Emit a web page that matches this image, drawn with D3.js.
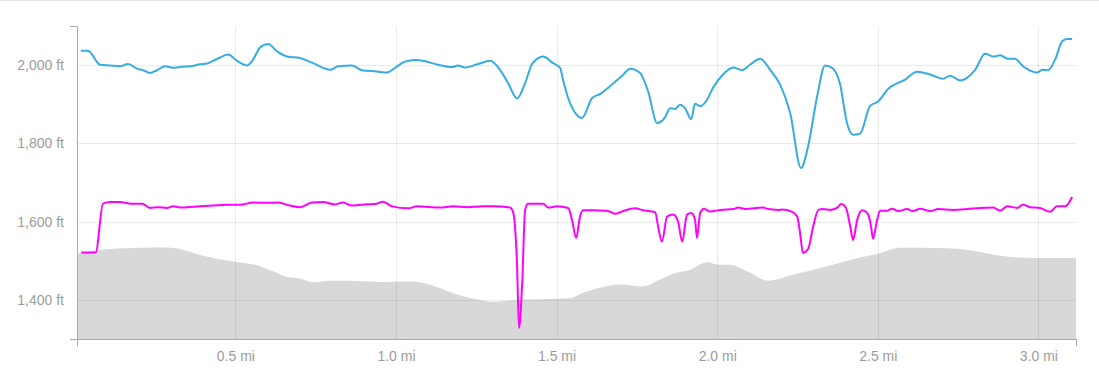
<!DOCTYPE html>
<html>
<head>
<meta charset="utf-8">
<script src="https://cdn.jsdelivr.net/npm/d3@7"></script>
<style>
  body { margin: 0; background: #fff; }
  svg { display: block; font-family: "Liberation Sans", Arial, sans-serif; }
</style>
</head>
<body>
<svg width="1099" height="389"></svg>
<script>
// distances in miles, elevations in feet
var xDomain = [0.007, 3.117];
var yDomain = [1300, 2100];
var xTicks = [0.5, 1.0, 1.5, 2.0, 2.5, 3.0];
var yTicks = [1400, 1600, 1800, 2000];

var blueDist = [0.019,0.041,0.079,0.110,0.141,0.166,0.194,0.213,0.234,0.256,0.281,0.306,0.334,0.359,0.390,0.415,0.446,0.477,0.505,0.536,0.555,0.577,0.602,0.630,0.661,0.701,0.742,0.795,0.820,0.863,0.894,0.941,0.972,0.997,1.028,1.059,1.091,1.131,1.175,1.193,1.215,1.256,1.293,1.324,1.349,1.377,1.402,1.424,1.458,1.489,1.511,1.520,1.536,1.542,1.579,1.611,1.635,1.676,1.704,1.729,1.760,1.785,1.813,1.838,1.853,1.869,1.884,1.900,1.919,1.931,1.947,1.969,1.987,2.018,2.050,2.078,2.102,2.134,2.165,2.196,2.227,2.261,2.283,2.311,2.336,2.358,2.383,2.404,2.423,2.445,2.476,2.501,2.532,2.585,2.622,2.663,2.703,2.725,2.756,2.803,2.834,2.859,2.881,2.906,2.927,2.952,2.996,3.012,3.030,3.052,3.074,3.089,3.105];
var blueFt = [2037,2037,2001,1999,1997,2003,1991,1987,1980,1987,1997,1993,1996,1997,2002,2005,2017,2027,2011,1999,2014,2045,2054,2035,2022,2018,2005,1988,1997,1999,1987,1984,1981,1993,2009,2013,2010,2001,1995,1999,1994,2003,2011,1988,1954,1915,1954,2003,2022,2005,1993,1963,1916,1903,1865,1916,1926,1953,1973,1991,1980,1933,1852,1867,1890,1888,1899,1890,1862,1901,1895,1912,1942,1976,1994,1987,2001,2016,1988,1950,1878,1737,1792,1920,1999,1993,1950,1852,1822,1825,1896,1907,1939,1963,1983,1976,1965,1973,1961,1988,2029,2022,2025,2016,2016,1997,1981,1988,1987,2014,2061,2067,2067];

var pinkDist = [0.020,0.065,0.088,0.110,0.141,0.172,0.210,0.234,0.259,0.287,0.306,0.334,0.390,0.431,0.474,0.515,0.555,0.599,0.633,0.670,0.701,0.739,0.773,0.810,0.835,0.863,0.898,0.935,0.960,0.988,1.038,1.066,1.137,1.178,1.221,1.271,1.302,1.355,1.365,1.377,1.383,1.393,1.402,1.411,1.458,1.474,1.502,1.536,1.548,1.561,1.573,1.582,1.614,1.657,1.682,1.704,1.744,1.769,1.807,1.816,1.828,1.844,1.863,1.878,1.891,1.906,1.919,1.931,1.937,1.947,1.959,1.978,2.009,2.050,2.065,2.087,2.143,2.159,2.190,2.202,2.233,2.249,2.258,2.267,2.283,2.299,2.315,2.330,2.352,2.373,2.386,2.401,2.414,2.423,2.436,2.451,2.467,2.479,2.485,2.498,2.507,2.529,2.545,2.563,2.591,2.610,2.632,2.663,2.688,2.734,2.778,2.819,2.859,2.881,2.903,2.934,2.952,2.974,3.005,3.036,3.058,3.083,3.093,3.105];
var pinkFt = [1521,1521,1646,1650,1650,1646,1646,1635,1637,1635,1639,1636,1639,1641,1643,1643,1649,1648,1649,1641,1637,1649,1650,1644,1649,1641,1644,1645,1651,1639,1634,1639,1636,1639,1637,1639,1639,1636,1623,1486,1328,1444,1630,1646,1646,1636,1639,1635,1605,1558,1613,1629,1629,1628,1620,1626,1634,1629,1624,1588,1549,1613,1618,1601,1549,1618,1622,1605,1558,1622,1633,1626,1630,1632,1636,1632,1636,1632,1630,1631,1625,1613,1571,1520,1530,1588,1630,1632,1630,1635,1645,1635,1588,1553,1605,1629,1622,1588,1556,1605,1628,1628,1633,1627,1632,1627,1633,1627,1632,1630,1632,1635,1636,1628,1639,1635,1644,1637,1635,1625,1639,1639,1646,1663];

var groundDist = [0.007,0.048,0.110,0.203,0.287,0.328,0.390,0.443,0.493,0.577,0.617,0.670,0.692,0.742,0.795,0.848,0.951,1.053,1.116,1.200,1.262,1.302,1.365,1.470,1.542,1.582,1.626,1.698,1.766,1.822,1.863,1.916,1.969,2.003,2.040,2.093,2.159,2.236,2.342,2.423,2.501,2.569,2.632,2.756,2.881,2.996,3.117];
var groundFt = [1517,1524,1530,1533,1534,1530,1515,1505,1498,1486,1473,1457,1456,1445,1449,1449,1446,1447,1436,1411,1400,1395,1399,1402,1404,1418,1429,1439,1434,1452,1467,1477,1496,1490,1490,1473,1449,1464,1486,1504,1518,1533,1533,1530,1513,1507,1507];

var svg = d3.select("svg"),
    margin = {top: 26, right: 23, bottom: 50, left: 77},
    width = +svg.attr("width") - margin.left - margin.right,
    height = +svg.attr("height") - margin.top - margin.bottom;

// faint top border
svg.append("line")
    .attr("x1", 0).attr("x2", 1099)
    .attr("y1", 0.5).attr("y2", 0.5)
    .attr("stroke", "#e4e4ec");

var g = svg.append("g").attr("transform", "translate(" + margin.left + "," + margin.top + ")");

var x = d3.scaleLinear().domain(xDomain).range([0, width]);
var y = d3.scaleLinear().domain(yDomain).range([height, 0]);

function pairs(ds, fs) {
  return ds.map(function(d, i) { return [d, fs[i]]; });
}

var area = d3.area()
    .x(function(d) { return x(d[0]); })
    .y0(height)
    .y1(function(d) { return y(d[1]); })
    .curve(d3.curveMonotoneX);

g.append("path")
    .datum(pairs(groundDist, groundFt))
    .attr("fill", "#d8d8d8")
    .attr("d", area);

// grid
g.append("g").selectAll("line")
    .data(yTicks)
    .enter().append("line")
      .attr("x1", 0).attr("x2", width)
      .attr("y1", function(d) { return Math.round(y(d)) + 0.5; })
      .attr("y2", function(d) { return Math.round(y(d)) + 0.5; })
      .attr("stroke", "rgba(0,0,0,0.08)");

g.append("g").selectAll("line")
    .data(xTicks)
    .enter().append("line")
      .attr("y1", 0).attr("y2", height)
      .attr("x1", function(d) { return Math.round(x(d)) + 0.5; })
      .attr("x2", function(d) { return Math.round(x(d)) + 0.5; })
      .attr("stroke", "rgba(0,0,0,0.08)");

var line = d3.line()
    .x(function(d) { return x(d[0]); })
    .y(function(d) { return y(d[1]); })
    .curve(d3.curveMonotoneX);

g.append("path")
    .datum(pairs(blueDist, blueFt))
    .attr("fill", "none")
    .attr("stroke", "#35ace2")
    .attr("stroke-width", 2)
    .attr("d", line);

g.append("path")
    .datum(pairs(pinkDist, pinkFt))
    .attr("fill", "none")
    .attr("stroke", "#ff00ff")
    .attr("stroke-width", 2)
    .attr("d", line);

// axes
var xAxis = g.append("g")
    .attr("transform", "translate(0," + height + ")")
    .call(d3.axisBottom(x)
      .tickValues(xTicks)
      .tickSizeInner(0)
      .tickSizeOuter(7)
      .tickPadding(12)
      .tickFormat(function(d) { return d3.format(".1f")(d) + " mi"; }));

var yAxis = g.append("g")
    .call(d3.axisLeft(y)
      .tickValues(yTicks)
      .tickSizeInner(0)
      .tickSizeOuter(7)
      .tickPadding(13)
      .tickFormat(function(d) { return d3.format(",")(d) + " ft"; }));

[xAxis, yAxis].forEach(function(a) {
  a.select(".domain").attr("stroke", "#a8a8a8");
  a.selectAll("text")
      .attr("fill", "#9c9c9c")
      .style("font-size", "14px")
      .style("font-family", "\"Liberation Sans\", Arial, sans-serif");
});
</script>
</body>
</html>
